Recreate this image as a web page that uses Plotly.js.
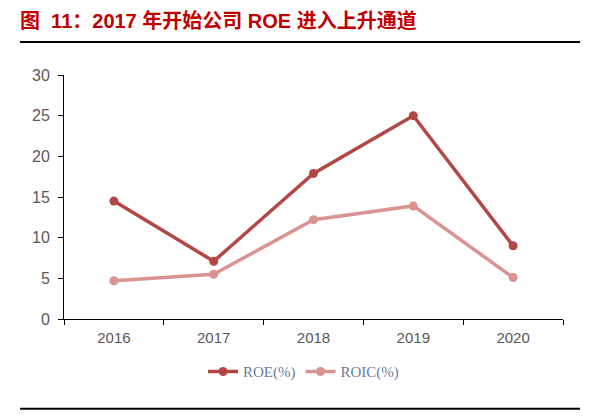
<!DOCTYPE html>
<html>
<head>
<meta charset="utf-8">
<script src="https://cdn.plot.ly/plotly-3.0.1.min.js"></script>
<style>
  html, body { margin: 0; padding: 0; background: #fff; }
  #chart { width: 592px; height: 416px; }
</style>
</head>
<body>
<div id="chart"></div>
<script>
  // values
  var years = ['2016', '2017', '2018', '2019', '2020'];
  var roe  = [14.5, 7.1, 17.9, 25.0, 9.0];
  var roic = [4.7, 5.5, 12.2, 13.9, 5.1];
  var yTicks = [0, 5, 10, 15, 20, 25, 30];

  var roeColor = '#B24745';
  var roicColor = '#D99391';

  var traces = [
    {
      x: years, y: roe, name: 'ROE(%)', type: 'scatter', mode: 'lines+markers',
      line: { color: roeColor, width: 3.5 },
      marker: { color: roeColor, size: 9 }
    },
    {
      x: years, y: roic, name: 'ROIC(%)', type: 'scatter', mode: 'lines+markers',
      line: { color: roicColor, width: 3.5 },
      marker: { color: roicColor, size: 9 }
    }
  ];

  var layout = {
    width: 592,
    height: 416,
    margin: { l: 64, r: 29, t: 75, b: 97 },
    paper_bgcolor: '#fff',
    plot_bgcolor: '#fff',
    showlegend: true,
    font: { family: 'Arial, "Liberation Sans", sans-serif', color: '#595959', size: 14 },
    title: {
      text: '<b>图  11：2017 年开始公司 ROE 进入上升通道</b>',
      font: { family: 'Arial, "Noto Sans CJK SC", sans-serif', size: 20, color: '#C00000' },
      xref: 'container', yref: 'container',
      x: 20 / 592, xanchor: 'left',
      y: 1 - 21 / 416, yanchor: 'middle'
    },
    xaxis: {
      type: 'category',
      showline: true, linecolor: '#000', linewidth: 1,
      ticks: 'outside', tickson: 'boundaries', ticklen: 5, tickcolor: '#000',
      showgrid: false, zeroline: false,
      tickfont: { size: 15, color: '#595959' },
      ticklabelstandoff: 5,
      range: [-0.5, 4.5]
    },
    yaxis: {
      range: [0, 30],
      tickvals: yTicks,
      showline: true, linecolor: '#000', linewidth: 1,
      ticks: 'outside', ticklen: 5, tickcolor: '#000',
      showgrid: false, zeroline: false,
      tickfont: { size: 16, color: '#595959' },
      ticklabelstandoff: 5
    },
    legend: {
      orientation: 'h',
      x: 0.48, xanchor: 'center',
      y: -0.216, yanchor: 'middle',
      font: { family: '"Liberation Serif", "DejaVu Serif", serif', size: 15, color: '#6A7A9A' },
      itemwidth: 30
    },
    shapes: [
      {
        type: 'line', xref: 'paper', yref: 'paper',
        x0: -0.088, x1: 1.034, y0: 1.1355, y1: 1.1355,
        line: { color: '#000', width: 2 }
      },
      {
        type: 'line', xref: 'paper', yref: 'paper',
        x0: -0.088, x1: 1.034, y0: -0.3676, y1: -0.3676,
        line: { color: '#000', width: 2 }
      }
    ]
  };

  Plotly.newPlot('chart', traces, layout, { displayModeBar: false, staticPlot: true });
</script>
</body>
</html>
